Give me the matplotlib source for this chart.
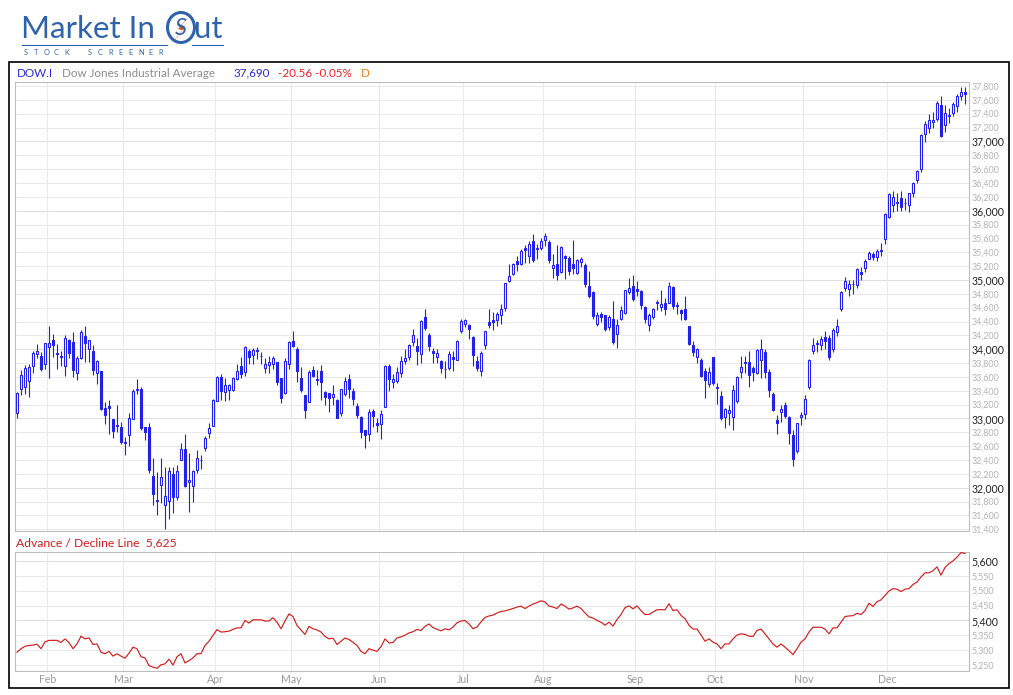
#!/usr/bin/env python3
"""Dow Jones Industrial Average daily candles with Advance/Decline line (MarketInOut style)."""

import matplotlib
import numpy as np
import pandas as pd

matplotlib.use("Agg")
import matplotlib.pyplot as plt
from matplotlib.patches import Ellipse, Polygon, Rectangle

W, H = 1013, 695
FONT = "Lato"
CANDLE = "#2222e6"
AD_RED = "#d51c1c"
LOGO_BLUE = "#2f62ad"
LOGO_ORANGE = "#f0561e"
GRID = "#e9e9e9"
SPINE = "#bdbdbd"

START, END = "2023-01-20", "2023-12-29"
HOLIDAYS = ["2023-02-20", "2023-04-07", "2023-05-29", "2023-06-19",
            "2023-07-04", "2023-09-04", "2023-11-23", "2023-12-25"]

# one line per month (Jan 20 .. Dec 29)
opens = [
    33073, 33430, 33460, 33536, 33763, 33937, 33899, 33787,
    34025, 34126, 33940, 33905, 33763, 34126, 34101, 33662, 33880, 34184, 33996, 33971, 33662, 33691, 33155, 33174, 32986, 32899, 32870,
    32650, 32764, 32996, 33410, 33420, 32870, 32870, 32174, 31805, 32039, 31749, 31812, 32203, 31865, 32401, 32561, 32085, 32024, 32256, 32405, 32567, 32788, 32894,
    33246, 33594, 33381, 33406, 33415, 33575, 33754, 33667, 33971, 33923, 33990, 33905, 33729, 33778, 33793, 33822, 33585, 33367, 33793,
    34112, 34010, 33585, 33343, 33237, 33705, 33575, 33691, 33377, 33362, 33309, 33266, 33077, 33358, 33575, 33401, 33184, 33015, 32836, 32778, 33101, 32942,
    32923, 33164, 33763, 33526, 33546, 33652, 33836, 33894, 34097, 34044, 33938, 34464, 34203, 33981, 33894, 33826, 33720, 33729, 33881, 33851, 34262,
    34358, 34343, 34175, 33826, 33691, 34054, 34396, 34420, 34416, 34488, 34590, 34981, 35082, 35275, 35227, 35460, 35344, 35556, 35445, 35459,
    35575, 35546, 35178, 35227, 35121, 35343, 35314, 35237, 35106, 35266, 35217, 34913, 34826, 34358, 34512, 34488, 34324, 34440, 34213, 34430, 34519, 34831, 34913,
    34866, 34841, 34609, 34343, 34469, 34680, 34614, 34662, 34672, 34899, 34640, 34561, 34575, 34334, 34068, 33889, 33851, 33681, 33498, 33884,
    33449, 33319, 33019, 33077, 33019, 33246, 33671, 33812, 33820, 33729, 33652, 33851, 33957, 33667, 33358, 32981, 33087, 33198, 33015, 32764, 32532, 33019,
    33068, 33449, 33981, 34070, 34068, 34180, 34155, 34010, 34252, 34575, 34889, 34866, 34940, 34928, 35110, 35178, 35309, 35381, 35333, 35415, 35590,
    35913, 36087, 36110, 36184, 36105, 36087, 36251, 36444, 36604, 37112, 37199, 37280, 37319, 37526, 37232, 37370, 37406, 37513, 37658, 37707,
]
highs = [
    33380, 33707, 33777, 33783, 33977, 34082, 33953, 34094,
    34335, 34213, 34075, 33975, 34207, 34150, 34252, 33897, 34271, 34331, 34136, 34066, 33844, 33691, 33232, 33261, 32986, 33188, 32951,
    32735, 33073, 33425, 33570, 33456, 32880, 32936, 32429, 32232, 32430, 32299, 32300, 32302, 32335, 32653, 32783, 32506, 32250, 32546, 32477, 32743, 32935, 33275,
    33620, 33638, 33580, 33500, 33600, 33787, 33884, 34040, 34010, 34020, 34030, 33960, 33874, 33900, 33900, 33822, 33585, 33876, 34112,
    34261, 34030, 33750, 33343, 33700, 33754, 33700, 33768, 33400, 33367, 33480, 33280, 33430, 33594, 33642, 33440, 33220, 33029, 32840, 33140, 33135, 33000,
    33120, 33770, 33780, 33640, 33750, 33900, 34000, 34070, 34290, 34165, 34420, 34575, 34230, 34020, 34000, 33850, 33830, 33970, 33968, 34140, 34430,
    34440, 34360, 34190, 33900, 33968, 34270, 34575, 34530, 34530, 34650, 34960, 35232, 35240, 35350, 35440, 35500, 35560, 35662, 35520, 35600,
    35679, 35580, 35372, 35500, 35490, 35360, 35340, 35575, 35300, 35330, 35240, 35130, 34840, 34540, 34540, 34500, 34490, 34690, 34430, 34630, 34860, 35024, 35072,
    34980, 34850, 34620, 34520, 34600, 34710, 34855, 34740, 34976, 34910, 34680, 34580, 34768, 34340, 34120, 34020, 33870, 33729, 33740, 33890,
    33512, 33390, 33150, 33200, 33480, 33620, 33899, 33900, 33971, 33754, 34000, 34141, 34000, 33720, 33380, 33050, 33200, 33240, 33041, 32836, 32940, 33090,
    33343, 33860, 34165, 34140, 34190, 34260, 34200, 34300, 34430, 34840, 35043, 35000, 35000, 35170, 35190, 35300, 35420, 35400, 35450, 35530, 35960,
    36250, 36280, 36260, 36280, 36180, 36260, 36420, 36590, 37100, 37300, 37400, 37420, 37580, 37660, 37526, 37480, 37570, 37680, 37778, 37779,
]
lows = [
    33002, 33340, 33347, 33306, 33650, 33873, 33685, 33715,
    33583, 33882, 33711, 33764, 33620, 33878, 33592, 33553, 33862, 33816, 33817, 33634, 33500, 33121, 32920, 32780, 32715, 32802, 32628,
    32477, 32597, 32996, 33350, 32838, 32693, 32209, 31758, 31604, 31775, 31410, 31555, 31638, 31824, 32401, 32004, 31654, 31800, 32207, 32277, 32533, 32721, 32894,
    33246, 33261, 33250, 33266, 33400, 33560, 33580, 33620, 33780, 33790, 33860, 33780, 33657, 33660, 33720, 33490, 33223, 33350, 33720,
    34029, 33520, 33380, 33000, 33237, 33594, 33480, 33260, 33200, 33087, 33200, 33000, 33029, 33319, 33290, 33200, 33000, 32715, 32570, 32680, 32870, 32810,
    32700, 33160, 33400, 33440, 33510, 33600, 33790, 33850, 34050, 33770, 33800, 34271, 33970, 33800, 33800, 33660, 33580, 33700, 33681, 33840, 34240,
    34320, 34150, 33754, 33680, 33609, 34000, 34309, 34280, 34330, 34370, 34550, 34966, 35070, 35130, 35210, 35250, 35240, 35266, 35300, 35430,
    35490, 35250, 35034, 35000, 35100, 35010, 35070, 35082, 35090, 35180, 34900, 34744, 34440, 34330, 34390, 34260, 34280, 34080, 34019, 34420, 34510, 34793, 34696,
    34770, 34580, 34380, 34270, 34440, 34560, 34551, 34500, 34672, 34580, 34510, 34420, 34421, 34060, 33900, 33800, 33600, 33295, 33450, 33480,
    33213, 32980, 32860, 32900, 32840, 33230, 33585, 33650, 33460, 33536, 33640, 33590, 33590, 33310, 33110, 32780, 32950, 33000, 32630, 32319, 32500, 32900,
    32996, 33420, 33933, 33960, 33990, 34000, 33840, 33960, 34188, 34550, 34841, 34770, 34800, 34880, 35000, 35120, 35300, 35290, 35270, 35350, 35520,
    35900, 35980, 35990, 35990, 36010, 35980, 36200, 36400, 36560, 36990, 37120, 37200, 37300, 37060, 37141, 37260, 37370, 37420, 37600, 37537,
]
closes = [
    33375, 33630, 33733, 33744, 33949, 33978, 33717, 34086,
    34093, 34054, 33926, 33891, 34156, 33949, 33699, 33869, 34246, 34089, 34128, 33696, 33827, 33130, 33045, 33154, 32817, 32889, 32657,
    32662, 33004, 33391, 33431, 32856, 32798, 32255, 31910, 31820, 32155, 31875, 32247, 31862, 32245, 32561, 32030, 32106, 32238, 32433, 32395, 32718, 32860, 33274,
    33601, 33403, 33482, 33485, 33587, 33685, 33647, 34030, 33886, 33987, 33977, 33897, 33787, 33809, 33875, 33531, 33301, 33826, 34098,
    34051, 33684, 33414, 33128, 33674, 33619, 33562, 33531, 33309, 33301, 33349, 33012, 33420, 33535, 33427, 33286, 33056, 32800, 32765, 33093, 33043, 32908,
    33061, 33763, 33563, 33573, 33665, 33834, 33876, 34066, 34212, 33979, 34408, 34299, 34053, 33952, 33946, 33727, 33714, 33927, 33852, 34122, 34408,
    34418, 34288, 33922, 33734, 33944, 34261, 34347, 34395, 34509, 34585, 34952, 35061, 35225, 35228, 35411, 35438, 35520, 35282, 35459, 35560,
    35630, 35283, 35215, 35066, 35474, 35314, 35123, 35176, 35281, 35308, 34946, 34765, 34474, 34500, 34463, 34288, 34472, 34099, 34346, 34559, 34852, 34890, 34721,
    34837, 34641, 34443, 34501, 34577, 34663, 34646, 34576, 34907, 34618, 34624, 34518, 34440, 34070, 33964, 34007, 33618, 33551, 33667, 33508,
    33433, 33003, 33130, 33120, 33408, 33605, 33740, 33805, 33632, 33670, 33985, 33998, 33665, 33415, 33127, 32937, 33141, 33036, 32785, 32418, 32929, 33053,
    33275, 33839, 34061, 34096, 34153, 34112, 33891, 34283, 34337, 34828, 34991, 34945, 34947, 35151, 35088, 35273, 35390, 35333, 35416, 35430, 35951,
    36245, 36204, 36124, 36054, 36117, 36248, 36404, 36577, 37090, 37248, 37306, 37306, 37558, 37082, 37405, 37386, 37545, 37657, 37710, 37690,
]
ad_line = [
    5293, 5305, 5313, 5316, 5317, 5320, 5305, 5328,
    5333, 5333, 5333, 5326, 5338, 5325, 5305, 5321, 5347, 5338, 5341, 5319, 5321, 5293, 5288, 5296, 5280, 5288, 5280,
    5273, 5290, 5310, 5305, 5278, 5274, 5248, 5243, 5239, 5251, 5254, 5270, 5250, 5278, 5288, 5257, 5265, 5274, 5288, 5288, 5316, 5330, 5350,
    5369, 5361, 5362, 5364, 5370, 5375, 5375, 5400, 5391, 5402, 5402, 5402, 5398, 5398, 5409, 5394, 5372, 5398, 5422,
    5413, 5383, 5368, 5353, 5380, 5372, 5368, 5361, 5346, 5338, 5340, 5319, 5330, 5341, 5336, 5326, 5316, 5296, 5288, 5305, 5300, 5296,
    5312, 5338, 5324, 5326, 5341, 5345, 5350, 5358, 5362, 5370, 5366, 5380, 5388, 5376, 5370, 5365, 5372, 5368, 5378, 5392, 5398,
    5400, 5388, 5372, 5378, 5395, 5410, 5415, 5418, 5425, 5430, 5432, 5436, 5440, 5445, 5448, 5440, 5448, 5455, 5460, 5466,
    5462, 5448, 5445, 5440, 5455, 5448, 5438, 5442, 5448, 5440, 5425, 5412, 5408, 5400, 5394, 5384, 5394, 5381, 5403, 5420, 5443, 5449, 5439,
    5449, 5433, 5420, 5420, 5428, 5436, 5436, 5436, 5456, 5433, 5436, 5417, 5406, 5384, 5371, 5371, 5351, 5330, 5338, 5327,
    5321, 5305, 5321, 5321, 5338, 5351, 5355, 5353, 5347, 5346, 5366, 5371, 5355, 5338, 5321, 5310, 5321, 5310, 5298, 5285, 5305, 5327,
    5338, 5361, 5377, 5377, 5377, 5371, 5355, 5375, 5375, 5394, 5413, 5415, 5416, 5424, 5420, 5433, 5458, 5447, 5463, 5469, 5484,
    5499, 5507, 5505, 5497, 5505, 5507, 5521, 5529, 5546, 5560, 5560, 5567, 5580, 5552, 5578, 5591, 5600, 5613, 5628, 5625,
]

price_ticks = list(range(31400, 37801, 200))
ad_ticks = list(range(5250, 5601, 50))


def px_rect(left, top, right, bottom):
    return [left / W, 1 - bottom / H, (right - left) / W, (bottom - top) / H]


def style_right_axis(ax, ticks, major_every):
    ax.yaxis.tick_right()
    ax.set_yticks(ticks)
    ax.set_yticklabels([f"{t:,}" for t in ticks])
    ax.tick_params(axis="y", length=0, pad=2)
    for t, lab in zip(ticks, ax.get_yticklabels()):
        lab.set_family(FONT)
        if t % major_every == 0:
            lab.set_color("#222222")
            lab.set_fontsize(7.6)
        else:
            lab.set_color("#b2b2b2")
            lab.set_fontsize(6.4)
    for t in ticks:
        ax.axhline(t, color=GRID if t % major_every else "#dedede", lw=0.75, zorder=0)
    for s in ax.spines.values():
        s.set_color(SPINE)
        s.set_linewidth(0.8)


def main():
    dates = pd.bdate_range(START, END)
    dates = dates[~dates.isin(pd.to_datetime(HOLIDAYS))]
    n = len(dates)
    lens = (n, len(opens), len(highs), len(lows), len(closes), len(ad_line))
    assert len(set(lens)) == 1, lens

    x = np.arange(n)
    o, h, l, c = (np.asarray(v, dtype=float) for v in (opens, highs, lows, closes))
    month_idx = [i for i in range(1, n) if dates[i].month != dates[i - 1].month]
    month_lbl = [dates[i].strftime("%b") for i in month_idx]
    month_pos = [i - 0.4 for i in month_idx]

    fig = plt.figure(figsize=(W / 100, H / 100), dpi=100)
    fig.patch.set_facecolor("white")

    # overlay in pixel coords for the logo, frame and headers
    ov = fig.add_axes([0, 0, 1, 1])
    ov.set_xlim(0, W)
    ov.set_ylim(H, 0)
    ov.axis("off")
    ov.add_patch(Rectangle((8.5, 61.5), 1000.5, 626.5, fill=False, ec="black", lw=1.2))

    ov.text(21, 38.5, "Market In", family=FONT, fontsize=22.5, color=LOGO_BLUE, va="baseline")
    ov.add_patch(Ellipse((181, 27.5), 27, 30, fill=False, ec=LOGO_BLUE, lw=2.2))
    ov.text(181, 28.5, "S", family=FONT, fontsize=17, color=LOGO_BLUE, style="italic",
            ha="center", va="center")
    ov.add_patch(Polygon([(195, 10), (180, 26), (185, 27.5), (168, 47), (183, 30.5), (178, 29)],
                         closed=True, fc=LOGO_ORANGE, ec="none"))
    ov.text(194, 38.5, "ut", family=FONT, fontsize=22.5, color=LOGO_BLUE, va="baseline")
    ov.plot([22, 167], [44.5, 44.5], color=LOGO_BLUE, lw=0.8)
    ov.plot([192, 223], [44.5, 44.5], color=LOGO_BLUE, lw=0.8)
    for k, ch in enumerate("STOCK"):
        ov.text(24 + 10 * k, 55, ch, family=FONT, fontsize=5.3, color=LOGO_BLUE, va="baseline")
    for k, ch in enumerate("SCREENER"):
        ov.text(88 + 10 * k, 55, ch, family=FONT, fontsize=5.3, color=LOGO_BLUE, va="baseline")

    hdr = dict(family=FONT, fontsize=8.4, va="center")
    ov.text(16.5, 73.3, "DOW.I", color="#2a2ad6", **hdr)
    ov.text(61.5, 73.3, "Dow Jones Industrial Average", color="#8c8c8c", **hdr)
    ov.text(234, 73.3, f"{closes[-1]:,}", color="#2a2ad6", **hdr)
    ov.text(278.5, 73.3, "-20.56 -0.05%", color="#ee2222", **hdr)
    ov.text(361, 73.3, "D", color="#f07a1e", **hdr)
    ov.text(16, 543.3, f"Advance / Decline Line  {ad_line[-1]:,}", color=AD_RED,
            family=FONT, fontsize=8.7, va="center")

    xlim = (-0.625, n - 0.0)

    # price panel
    ax = fig.add_axes(px_rect(14.5, 82.3, 969, 530.5))
    ax.set_xlim(*xlim)
    ax.set_ylim(31383, 37853)
    style_right_axis(ax, price_ticks, 1000)
    for p in month_pos:
        ax.axvline(p, color=GRID, lw=0.75, zorder=0)
    ax.set_xticks([])

    up = c >= o
    ax.vlines(x, l, h, color=CANDLE, lw=0.8, zorder=2)
    ax.bar(x[up], c[up] - o[up], bottom=o[up], width=0.5, facecolor="white",
           edgecolor=CANDLE, linewidth=0.8, zorder=3)
    ax.bar(x[~up], c[~up] - o[~up], bottom=o[~up], width=0.5, facecolor=CANDLE,
           edgecolor=CANDLE, linewidth=0.8, zorder=3)

    # advance / decline panel
    ax2 = fig.add_axes(px_rect(14.5, 551.7, 969, 670.7))
    ax2.set_xlim(*xlim)
    ax2.set_ylim(5231, 5631)
    style_right_axis(ax2, ad_ticks, 200)
    for p in month_pos:
        ax2.axvline(p, color=GRID, lw=0.75, zorder=0)
    ax2.plot(x, ad_line, color=AD_RED, lw=0.85, zorder=3)
    ax2.set_xticks(month_pos)
    ax2.set_xticklabels(month_lbl, family=FONT, fontsize=7.6, color="#9a9a9a")
    ax2.tick_params(axis="x", length=0, pad=2.5)

    fig.savefig("out.png", dpi=100, facecolor="white")
    plt.close(fig)


if __name__ == "__main__":
    main()
